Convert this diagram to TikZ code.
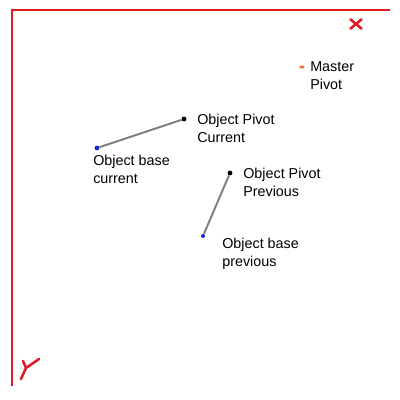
\documentclass[tikz,border=0pt]{standalone}
\usepackage{fontspec}
\setmainfont{Liberation Sans}
\usetikzlibrary{shapes.geometric}
\definecolor{axisred}{RGB}{225,25,35}
\definecolor{pivotorange}{RGB}{232,120,50}
\definecolor{baseblue}{RGB}{25,40,200}
\definecolor{linkgray}{RGB}{128,128,128}
\begin{document}
\begin{tikzpicture}[
			x=0.025cm, y=-0.025cm,
			% Define styles for dots, labels and lines
			dot/.style={circle, fill, inner sep=0pt, minimum size=0.12cm},
			label text/.style={anchor=north west, inner sep=0pt, align=left, font=\fontsize{10.2}{12.8}\selectfont},
			link/.style={draw=linkgray, line width=1.4pt},
			axis/.style={draw=axisred, line width=1.4pt}
		]
		\useasboundingbox (0,0) rectangle (400,400);

		% Frame and axis marks
		\draw[axis] (390,10) -- (12,10) -- (12,386);
		\draw[axis, line width=1.8pt] (350,19) -- (362,29) (350,29) -- (362,19);
		\draw[axis, line width=1.8pt, line cap=round] (21,379) -- (26,368) -- (23,361) (26,368) -- (39,359);

		% Master pivot
		\node[dot, pivotorange, ellipse, minimum width=0.13cm, minimum height=0.08cm] (masterpivot) at (302,67) {};
		\node[label text] (masterlabel) at (310,61) {Master\\Pivot};

		% Current pose
		\node[dot, black] (pivotcur) at (184,119) {};
		\node[dot, baseblue] (basecur) at (97,148) {};
		\draw[link] (basecur) -- (pivotcur);
		\node[label text] (pivotcurlabel) at (197,114) {Object Pivot\\Current};
		\node[label text] (basecurlabel) at (93,155) {Object base\\current};

		% Previous pose
		\node[dot, black] (pivotprev) at (230,173) {};
		\node[dot, baseblue, minimum size=0.1cm] (baseprev) at (203,236) {};
		\draw[link] (baseprev) -- (pivotprev);
		\node[label text] (pivotprevlabel) at (243,168) {Object Pivot\\Previous};
		\node[label text] (baseprevlabel) at (222,238) {Object base\\previous};
	\end{tikzpicture}
\end{document}
